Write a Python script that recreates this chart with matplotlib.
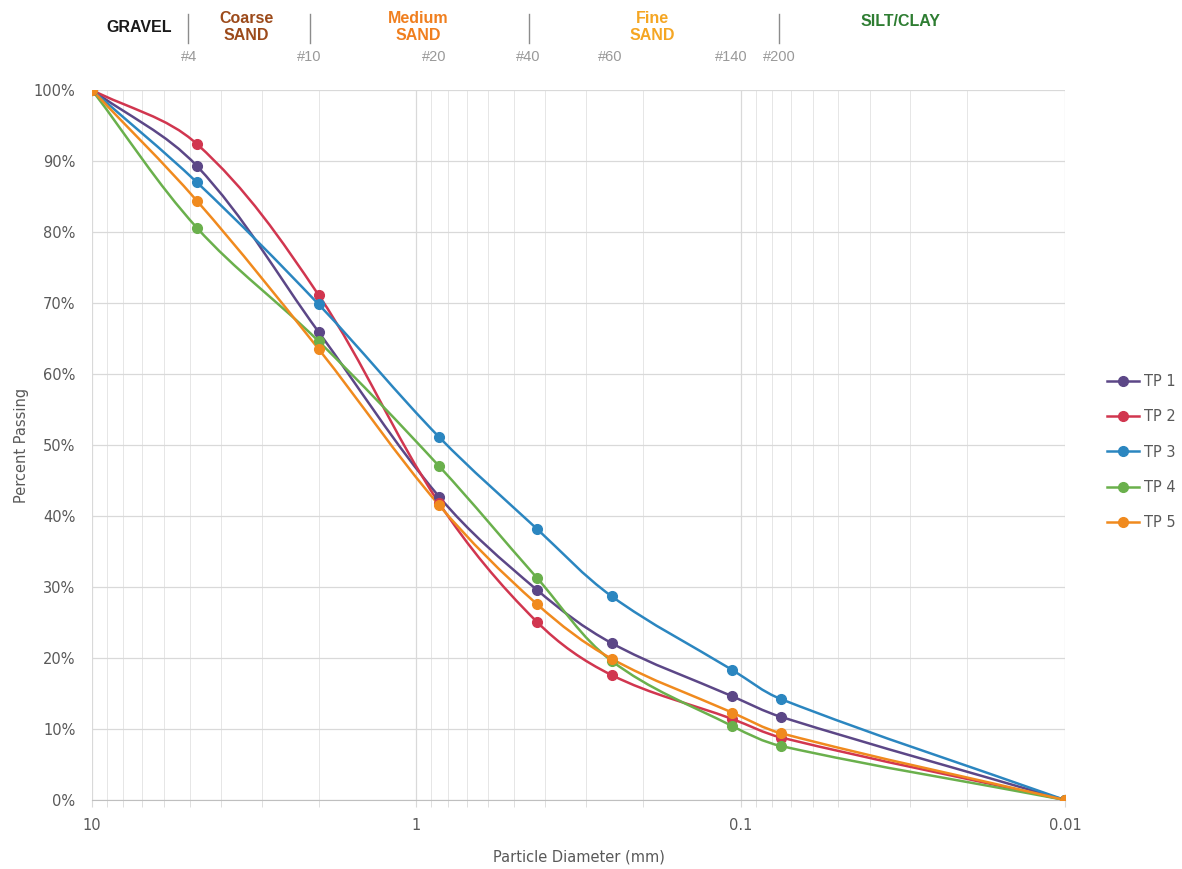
import numpy as np
import matplotlib
matplotlib.use('Agg')
import matplotlib.pyplot as plt
from matplotlib.path import Path
from matplotlib.patches import PathPatch
from matplotlib.lines import Line2D

# sieve sizes (mm)
diam = [10, 4.75, 2.0, 0.85, 0.425, 0.25, 0.106, 0.075, 0.01]

names = ['TP 1', 'TP 2', 'TP 3', 'TP 4', 'TP 5']
tp1 = [100, 89.3, 65.9, 42.7, 29.6, 22.1, 14.6, 11.7, 0]
tp2 = [100, 92.4, 71.1, 41.8, 25.1, 17.6, 11.4, 8.8, 0]
tp3 = [100, 87.0, 69.8, 51.1, 38.2, 28.7, 18.3, 14.2, 0]
tp4 = [100, 80.6, 64.6, 47.0, 31.3, 19.6, 10.4, 7.6, 0]
tp5 = [100, 84.4, 63.5, 41.5, 27.6, 19.9, 12.3, 9.4, 0]
series = [tp1, tp2, tp3, tp4, tp5]
colors = ['#5C4787', '#D1364F', '#2B86C0', '#6AB04C', '#F08A1E']

# soil classes across the top
class_labels = ['GRAVEL', 'Coarse\nSAND', 'Medium\nSAND', 'Fine\nSAND', 'SILT/CLAY']
class_colors = ['#1a1a1a', '#9C4A1A', '#F07F1E', '#F5A623', '#2E7D32']
class_x = [139, 246, 418, 652, 901]
class_y = [28, 27, 27, 27, 22]
sieve_labels = ['#4', '#10', '#20', '#40', '#60', '#140', '#200']
sieve_x = [189, 309, 434, 528, 610, 731, 779]
divider_x = [188, 310, 529, 779]

# pixel scale of the plot area, used so the smoothing looks right on screen
PX_DECADE = 324.5
PX_PCT = 7.1


def smooth_path(xs, ys, k=0.35):
    # smoothed line as cubic bezier segments, handles scaled to segment length
    px = np.log10(xs) * PX_DECADE
    py = np.array(ys, dtype=float) * PX_PCT
    P = np.column_stack([px, py])
    n = len(P)
    tang = []
    for i in range(n):
        d = P[min(i + 1, n - 1)] - P[max(i - 1, 0)]
        tang.append(d / np.hypot(*d))
    verts = [(xs[0], ys[0])]
    codes = [Path.MOVETO]
    for i in range(n - 1):
        seg = np.hypot(*(P[i + 1] - P[i]))
        c1 = P[i] + tang[i] * seg * k
        c2 = P[i + 1] - tang[i + 1] * seg * k
        for c in (c1, c2, P[i + 1]):
            verts.append((10 ** (c[0] / PX_DECADE), c[1] / PX_PCT))
        codes += [Path.CURVE4] * 3
    return Path(verts, codes)


W, H = 1182, 869
fig = plt.figure(figsize=(W / 100, H / 100), dpi=100)
ax = fig.add_axes([92 / W, 1 - 800 / H, (1065 - 92) / W, (800 - 90) / H])

ax.set_xscale('log')
ax.set_xlim(10, 0.01)
ax.set_ylim(0, 100)

for vals, c in zip(series, colors):
    ax.add_patch(PathPatch(smooth_path(diam, vals), fill=False, edgecolor=c, lw=1.8, zorder=3))
    ax.plot(diam, vals, 'o', color=c, ms=7, zorder=4)

ax.set_yticks(np.arange(0, 101, 10))
ax.set_yticklabels([f'{v}%' for v in range(0, 101, 10)])
ax.set_xticks([10, 1, 0.1, 0.01])
ax.set_xticklabels(['10', '1', '0.1', '0.01'])
ax.tick_params(axis='y', length=0, pad=12, labelsize=10.5, labelcolor='#595959')
ax.tick_params(axis='x', which='both', length=5, color='#d9d9d9', pad=8, labelsize=10.5, labelcolor='#595959')
ax.xaxis.set_minor_formatter(plt.NullFormatter())

ax.grid(True, which='major', color='#d9d9d9', lw=0.9)
ax.grid(True, which='minor', axis='x', color='#e6e6e6', lw=0.7)
for s in ['top', 'right', 'left']:
    ax.spines[s].set_visible(False)
ax.spines['bottom'].set_color('#bfbfbf')
ax.set_axisbelow(True)

ax.set_xlabel('Particle Diameter (mm)', fontsize=10.5, color='#595959', labelpad=12)
ax.set_ylabel('Percent Passing', fontsize=10.5, color='#595959', labelpad=3)

handles = [Line2D([], [], color=c, lw=1.8, marker='o', ms=7) for c in colors]
ax.legend(handles, names, loc='center left', bbox_to_anchor=(1.03, 0.49), frameon=False,
          fontsize=10.5, labelspacing=1.4, handlelength=2.2, handletextpad=0.3, labelcolor='#595959')

# top annotations
for lab, c, x, y in zip(class_labels, class_colors, class_x, class_y):
    fig.text(x / W, 1 - y / H, lab, color=c, ha='center', va='center', fontsize=11.5,
             fontweight='bold', family='Liberation Sans', linespacing=1.1)
for lab, x in zip(sieve_labels, sieve_x):
    fig.text(x / W, 1 - 57 / H, lab, color='#999999', ha='center', va='center', fontsize=10.5,
             family='Liberation Sans')
for x in divider_x:
    fig.add_artist(Line2D([x / W, x / W], [1 - 14 / H, 1 - 43 / H], color='#8c8c8c', lw=1))

fig.savefig('out.png', dpi=100)
